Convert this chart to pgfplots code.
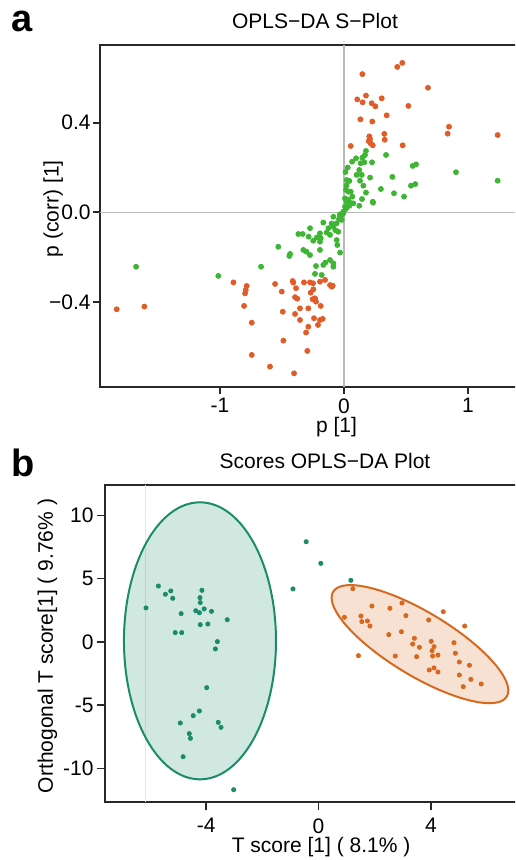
\documentclass[border=0pt]{standalone}
\usepackage{fontspec}
\setmainfont{Liberation Sans}
\usepackage{pgfplots}
\pgfplotsset{compat=1.18}
\definecolor{sOrange}{RGB}{224,92,40}
\definecolor{sGreen}{RGB}{62,182,52}
\definecolor{tealE}{RGB}{26,140,105}
\definecolor{orangeE}{RGB}{214,105,30}
\definecolor{spine}{RGB}{40,40,40}

\pgfplotsset{
  panel/.style={
    scale only axis,
    axis line style={line width=1pt, spine},
    tick align=outside,
    xtick pos=bottom, ytick pos=left,
    major tick length=3.5pt,
    tick style={line width=0.8pt, spine},
    tick label style={font=\fontsize{10.5}{12}\selectfont},
    label style={font=\fontsize{10.5}{12}\selectfont},
    title style={font=\fontsize{10.5}{12}\selectfont, at={(0.5,1)}, anchor=base, yshift=2.2pt},
    /pgf/number format/assume math mode=true,
  }
}

\begin{document}
\begin{tikzpicture}
\path[use as bounding box, clip] (0,0) rectangle (257.5pt,430pt);

\node[anchor=base west, inner sep=0pt, font=\fontsize{19}{19}\selectfont\bfseries] at (5.5pt,414pt) {a};
\node[anchor=base west, inner sep=0pt, font=\fontsize{19}{19}\selectfont\bfseries] at (5.5pt,191.5pt) {b};

% ---- a: S-plot
\begin{axis}[panel,
  at={(50pt,407.5pt)}, anchor=north west,
  width=215pt, height=171pt,
  xmin=-1.968, xmax=1.5, ymin=-0.78, ymax=0.747,
  xtick={-1,0,1},
  ytick={-0.4,0,0.4}, yticklabels={−0.4,0.0,0.4},
  xticklabel style={inner sep=2pt},
  yticklabel style={inner sep=1pt},
  title={OPLS−DA S−Plot},
  xlabel={p [1]}, ylabel={p (corr) [1]},
  xlabel style={at={(axis description cs:0.55,0)}, anchor=base, yshift=-23pt},
  ylabel style={at={(axis description cs:-0.109,0.521)}, anchor=center, rotate=0},
]
\draw[gray!55, line width=0.6pt] (axis cs:0,-0.78) -- (axis cs:0,0.747);
\draw[gray!55, line width=0.6pt] (axis cs:-1.968,0) -- (axis cs:1.5,0);

\addplot[only marks, mark=*, mark size=1.25pt, color=sGreen] coordinates {
(0.177,0.274)(0.169,0.256)(0.148,0.244)(0.097,0.241)(0.065,0.226)(0.134,0.219)
(0.163,0.223)(0.226,0.223)(0.339,0.256)(0.123,0.189)(0.102,0.167)(0.143,0.167)
(0.21,0.155)(0.39,0.158)(0.554,0.207)(0.581,0.214)(0.903,0.179)(1.239,0.141)
(0.022,0.144)(0.043,0.140)(0.129,0.141)(0.156,0.119)(0.297,0.104)(0.54,0.119)
(0.575,0.126)(0.016,0.1)(0.054,0.092)(0.177,0.088)(0.403,0.085)(0.484,0.07)
(0.067,0.07)(0.145,0.059)(0.232,0.047)(0.022,0.047)(0.008,0.062)(0.043,0.029)
(0.123,0.029)(0.075,0.04)(0.016,0.015)(-0.005,0.003)(-0.032,-0.009)
(0.035,0.055)(0.048,0.043)(0.234,0.043)(0.008,0.025)(0.012,0.18)(0.03,0.2)
(0.02,0.12)(0.035,0.092)
(-0.005,-0.004)(-0.032,-0.017)(-0.086,-0.02)(-0.019,-0.034)(-0.059,-0.049)
(-0.167,-0.046)(-0.086,-0.064)(-0.126,-0.071)(-0.046,-0.087)(-0.274,-0.071)
(-0.368,-0.097)(-0.333,-0.097)(-0.194,-0.094)(-0.113,-0.101)(-0.218,-0.112)
(-0.285,-0.109)(-0.188,-0.116)(-0.059,-0.124)(-0.248,-0.127)(-0.194,-0.131)
(-0.530,-0.154)(-0.054,-0.146)(-0.303,-0.176)(-0.328,-0.168)(-0.435,-0.186)
(-0.441,-0.195)(-0.274,-0.191)(-0.194,-0.168)(-0.032,-0.180)(-0.113,-0.213)
(-0.167,-0.235)(-0.151,-0.225)(-0.086,-0.228)(-0.086,-0.243)(-0.226,-0.240)
(-0.234,-0.275)(-0.180,-0.280)(-0.669,-0.243)(-1.014,-0.284)(-1.677,-0.243)
(-0.015,-0.01)(-0.04,-0.03)(-0.07,-0.08)(-0.1,-0.05)(-0.14,-0.09)
};
\addplot[only marks, mark=*, mark size=1.25pt, color=sOrange] coordinates {
(0.148,0.617)(0.43,0.649)(0.47,0.667)(0.677,0.556)(0.107,0.504)(0.15,0.491)
(0.177,0.521)(0.223,0.487)(0.253,0.473)(0.304,0.509)(0.519,0.475)(0.132,0.415)
(0.228,0.405)(0.344,0.433)(0.847,0.382)(0.836,0.351)(1.239,0.345)(0.325,0.35)
(0.328,0.324)(0.204,0.339)(0.21,0.327)(0.199,0.318)(0.215,0.308)(0.232,0.299)
(0.473,0.299)(0.054,0.296)
(-0.892,-0.313)(-0.785,-0.329)(-0.793,-0.347)(-0.798,-0.362)(-0.806,-0.418)
(-0.744,-0.493)(-0.744,-0.637)(-0.597,-0.689)(-0.403,-0.719)(-0.556,-0.320)
(-0.502,-0.354)(-0.489,-0.573)(-0.494,-0.444)(-0.414,-0.307)(-0.409,-0.314)
(-0.387,-0.339)(-0.395,-0.379)(-0.377,-0.386)(-0.355,-0.429)(-0.395,-0.454)
(-0.355,-0.481)(-0.323,-0.313)(-0.274,-0.313)(-0.250,-0.317)(-0.269,-0.359)
(-0.247,-0.344)(-0.253,-0.388)(-0.226,-0.399)(-0.234,-0.384)(-0.188,-0.418)
(-0.194,-0.310)(-0.153,-0.302)(-0.113,-0.325)(-0.099,-0.332)(-0.091,-0.328)
(-0.288,-0.429)(-0.242,-0.473)(-0.194,-0.481)(-0.172,-0.476)(-0.210,-0.503)
(-0.288,-0.511)(-0.306,-0.537)(-0.296,-0.619)(-1.610,-0.421)(-1.833,-0.433)
};
\end{axis}

% ---- b: scores plot
\begin{axis}[panel,
  at={(52.5pt,187.5pt)}, anchor=north west,
  width=220pt, height=158.5pt,
  xmin=-7.6, xmax=8.06, ymin=-12.64, ymax=12.4,
  major tick length=4pt,
  xtick={-4,0,4}, ytick={-10,-5,0,5,10},
  xticklabel style={inner sep=4pt},
  yticklabel style={inner sep=1.5pt},
  title={Scores OPLS−DA Plot},
  xlabel={T score [1] ( 8.1\% )}, ylabel={Orthogonal T score[1] ( 9.76\% )},
  xlabel style={at={(axis description cs:0.491,0)}, anchor=base, yshift=-25pt},
  ylabel style={at={(axis description cs:-0.1307,0.492)}, anchor=center, rotate=0},
]
\draw[gray!20, line width=0.4pt] (axis cs:-6.16,-12.64) -- (axis cs:-6.16,12.4);
\draw[tealE, line width=1pt, fill=tealE, fill opacity=0.2] (axis cs:-4.22,0.09) ellipse [x radius=38pt, y radius=69.25pt];
\draw[orangeE, line width=1pt, fill=orangeE, fill opacity=0.2, rotate around={-31.1:(axis cs:3.61,-0.17)}] (axis cs:3.61,-0.17) ellipse [x radius=50.7pt, y radius=15.9pt];

\addplot[only marks, mark=*, mark size=1.05pt, color=tealE] coordinates {
(-5.70,4.42)(-5.45,3.77)(-5.26,4.03)(-5.19,3.45)(-6.14,2.69)(-4.89,2.24)
(-4.15,4.08)(-4.22,3.50)(-4.21,3.11)(-4.37,2.47)(-4.24,2.31)(-4.07,2.61)
(-3.81,2.42)(-3.25,1.76)(-4.21,1.37)(-3.94,1.42)(-5.10,0.74)(-4.87,0.74)
(-3.60,0.03)(-3.67,-0.55)(-3.98,-3.61)(-4.24,-5.45)(-4.46,-5.82)(-4.92,-6.40)
(-3.57,-6.35)(-3.47,-6.74)(-4.60,-7.24)(-4.56,-7.61)(-4.82,-9.06)(-3.02,-11.67)
(-0.44,7.92)(-0.91,4.19)(0.08,6.21)(1.15,4.87)
};
\addplot[only marks, mark=*, mark size=1.05pt, color=orangeE] coordinates {
(1.22,4.21)(0.92,1.95)(1.42,-1.08)(1.51,2.05)(1.54,1.61)(1.74,1.66)
(1.83,1.26)(1.90,2.84)(2.54,2.66)(2.97,3.08)(3.11,2.08)(2.50,0.58)
(2.95,0.81)(2.73,-1.11)(3.41,0.29)(3.35,-0.16)(3.59,-0.42)(3.49,-1.16)
(3.92,1.74)(4.44,2.39)(4.01,0.05)(4.11,-0.37)(4.04,-0.69)(4.25,-1.03)
(4.06,-1.11)(3.94,-2.21)(4.11,-2.05)(4.25,-2.37)(4.82,-0.06)(4.87,-0.89)
(5.01,-1.58)(5.20,1.26)(5.37,-1.84)(5.01,-2.61)(5.42,-2.95)(5.15,-3.53)
(5.79,-3.32)
};
\end{axis}
\end{tikzpicture}
\end{document}
